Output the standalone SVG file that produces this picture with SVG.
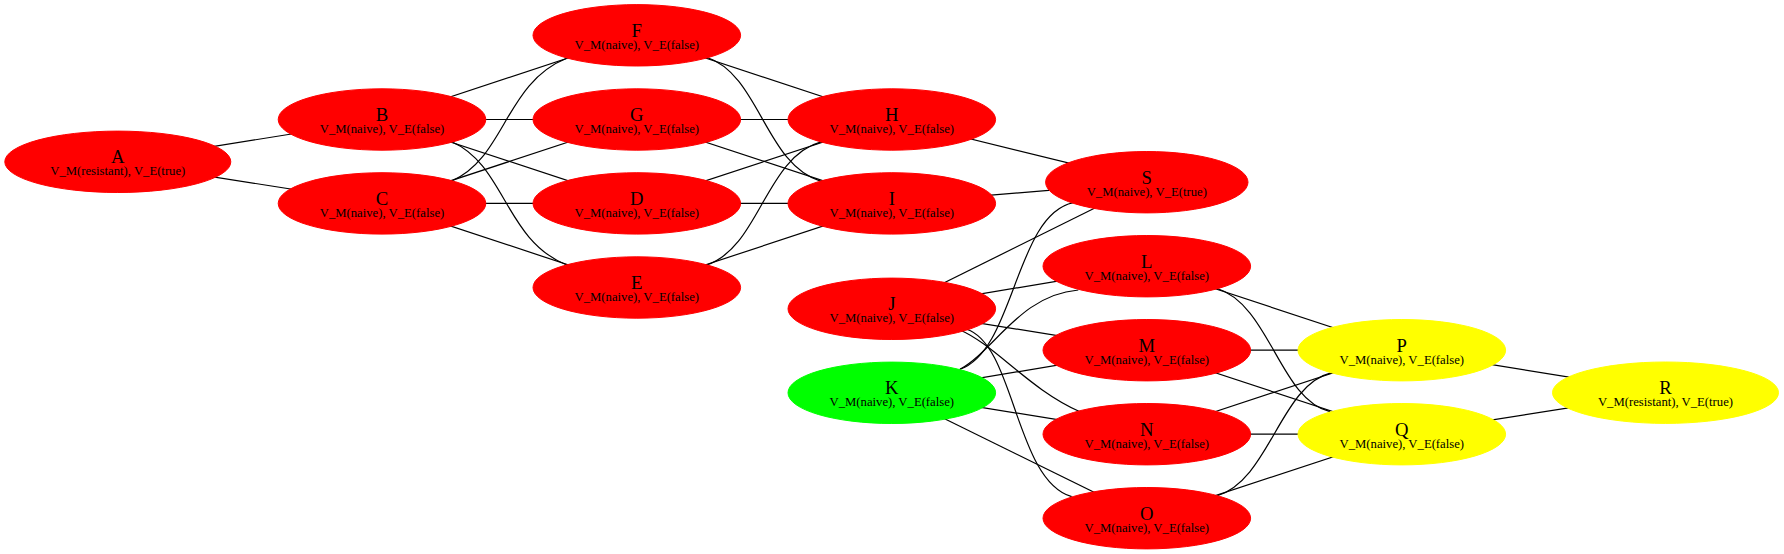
<svg xmlns="http://www.w3.org/2000/svg" width="1784" height="554" viewBox="0 0 1784 554">
<style>
.bg{fill:#ffffff}
.e{fill:none;stroke:#000000;stroke-width:1.2}
.red{fill:#ff0000;stroke:#ff0000}
.grn{fill:#00ff00;stroke:#00ff00}
.yel{fill:#ffff00;stroke:#ffff00}
.t1{font-family:"Liberation Serif","Times New Roman",serif;font-size:18.67px;text-anchor:middle;fill:#000000}
.t2{font-family:"Liberation Serif","Times New Roman",serif;font-size:12.7px;text-anchor:middle;fill:#000000}
</style>
<rect class="bg" x="0" y="0" width="1784" height="554"/>
<g id="connectors">
<path class="e" d="M117.8,161.8 L382,119.5"/>
<path class="e" d="M117.8,161.8 L382,203.4"/>
<path class="e" d="M382,119.5 L636.8,35.3"/>
<path class="e" d="M382,119.5 L636.8,119.5"/>
<path class="e" d="M382,119.5 L636.8,203.4"/>
<path class="e" d="M451.7,141.7 C505,165 505,240 566.7,265"/>
<path class="e" d="M451.7,181 C505,158 505,83 566.7,58.3"/>
<path class="e" d="M382,203.4 L636.8,119.5"/>
<path class="e" d="M382,203.4 L636.8,203.4"/>
<path class="e" d="M382,203.4 L636.8,287.5"/>
<path class="e" d="M636.8,35.3 L891.8,119.5"/>
<path class="e" d="M706.7,57.3 C760,75 765,165 821.7,181.7"/>
<path class="e" d="M636.8,119.5 L891.8,119.5"/>
<path class="e" d="M636.8,119.5 L891.8,203.4"/>
<path class="e" d="M636.8,203.4 L891.8,119.5"/>
<path class="e" d="M636.8,203.4 L891.8,203.4"/>
<path class="e" d="M706.7,265 C760,247 765,157 821.7,141.7"/>
<path class="e" d="M636.8,287.5 L891.8,203.4"/>
<path class="e" d="M891.8,119.5 L1146.8,182.2"/>
<path class="e" d="M891.8,203.4 L1146.8,182.2"/>
<path class="e" d="M891.8,308.8 L1146.8,182.2"/>
<path class="e" d="M891.8,308.8 L1146.8,266.2"/>
<path class="e" d="M891.8,308.8 L1146.8,350.2"/>
<path class="e" d="M960,330 C995,345 1030,390 1080,411.7"/>
<path class="e" d="M966.7,329.3 C1015,345 1015,480 1071.7,496.7"/>
<path class="e" d="M960,369.3 C1015,350 1015,215 1073.3,202.7"/>
<path class="e" d="M960,369.3 C995,350 1020,295 1078.3,290"/>
<path class="e" d="M891.8,392.8 L1146.8,350.2"/>
<path class="e" d="M891.8,392.8 L1146.8,434.2"/>
<path class="e" d="M891.8,392.8 L1146.8,518.2"/>
<path class="e" d="M1146.8,266.2 L1401.8,350.2"/>
<path class="e" d="M1216.7,288.3 C1270,305 1280,400 1330,411.7"/>
<path class="e" d="M1146.8,350.2 L1401.8,350.2"/>
<path class="e" d="M1146.8,350.2 L1401.8,434.2"/>
<path class="e" d="M1146.8,434.2 L1401.8,350.2"/>
<path class="e" d="M1146.8,434.2 L1401.8,434.2"/>
<path class="e" d="M1216.7,496 C1270,480 1280,385 1331.7,372.7"/>
<path class="e" d="M1146.8,518.2 L1401.8,434.2"/>
<path class="e" d="M1401.8,350.2 L1665.5,392.7"/>
<path class="e" d="M1401.8,434.2 L1665.5,392.7"/>
</g>
<g id="node-A"><ellipse class="red" cx="117.8" cy="161.8" rx="113" ry="30.7"/><text class="t1" x="117.8" y="163.1">A</text><text class="t2" x="117.8" y="175">V_M(resistant), V_E(true)</text></g>
<g id="node-B"><ellipse class="red" cx="382" cy="119.5" rx="103.8" ry="30.7"/><text class="t1" x="382" y="120.8">B</text><text class="t2" x="382" y="132.8">V_M(naive), V_E(false)</text></g>
<g id="node-C"><ellipse class="red" cx="382" cy="203.4" rx="103.8" ry="30.7"/><text class="t1" x="382" y="204.7">C</text><text class="t2" x="382" y="216.7">V_M(naive), V_E(false)</text></g>
<g id="node-F"><ellipse class="red" cx="636.8" cy="35.3" rx="103.8" ry="30.7"/><text class="t1" x="636.8" y="36.6">F</text><text class="t2" x="636.8" y="48.6">V_M(naive), V_E(false)</text></g>
<g id="node-G"><ellipse class="red" cx="636.8" cy="119.5" rx="103.8" ry="30.7"/><text class="t1" x="636.8" y="120.8">G</text><text class="t2" x="636.8" y="132.8">V_M(naive), V_E(false)</text></g>
<g id="node-D"><ellipse class="red" cx="636.8" cy="203.4" rx="103.8" ry="30.7"/><text class="t1" x="636.8" y="204.7">D</text><text class="t2" x="636.8" y="216.7">V_M(naive), V_E(false)</text></g>
<g id="node-E"><ellipse class="red" cx="636.8" cy="287.5" rx="103.8" ry="30.7"/><text class="t1" x="636.8" y="288.8">E</text><text class="t2" x="636.8" y="300.8">V_M(naive), V_E(false)</text></g>
<g id="node-H"><ellipse class="red" cx="891.8" cy="119.5" rx="103.8" ry="30.7"/><text class="t1" x="891.8" y="120.8">H</text><text class="t2" x="891.8" y="132.8">V_M(naive), V_E(false)</text></g>
<g id="node-I"><ellipse class="red" cx="891.8" cy="203.4" rx="103.8" ry="30.7"/><text class="t1" x="891.8" y="204.7">I</text><text class="t2" x="891.8" y="216.7">V_M(naive), V_E(false)</text></g>
<g id="node-J"><ellipse class="red" cx="891.8" cy="308.8" rx="103.8" ry="30.7"/><text class="t1" x="891.8" y="310.1">J</text><text class="t2" x="891.8" y="322.1">V_M(naive), V_E(false)</text></g>
<g id="node-K"><ellipse class="grn" cx="891.8" cy="392.8" rx="103.8" ry="30.7"/><text class="t1" x="891.8" y="394.1">K</text><text class="t2" x="891.8" y="406.1">V_M(naive), V_E(false)</text></g>
<g id="node-S"><ellipse class="red" cx="1146.8" cy="182.2" rx="101.2" ry="30.7"/><text class="t1" x="1146.8" y="183.5">S</text><text class="t2" x="1146.8" y="195.5">V_M(naive), V_E(true)</text></g>
<g id="node-L"><ellipse class="red" cx="1146.8" cy="266.2" rx="103.8" ry="30.7"/><text class="t1" x="1146.8" y="267.5">L</text><text class="t2" x="1146.8" y="279.5">V_M(naive), V_E(false)</text></g>
<g id="node-M"><ellipse class="red" cx="1146.8" cy="350.2" rx="103.8" ry="30.7"/><text class="t1" x="1146.8" y="351.5">M</text><text class="t2" x="1146.8" y="363.5">V_M(naive), V_E(false)</text></g>
<g id="node-N"><ellipse class="red" cx="1146.8" cy="434.2" rx="103.8" ry="30.7"/><text class="t1" x="1146.8" y="435.5">N</text><text class="t2" x="1146.8" y="447.5">V_M(naive), V_E(false)</text></g>
<g id="node-O"><ellipse class="red" cx="1146.8" cy="518.2" rx="103.8" ry="30.7"/><text class="t1" x="1146.8" y="519.5">O</text><text class="t2" x="1146.8" y="531.5">V_M(naive), V_E(false)</text></g>
<g id="node-P"><ellipse class="yel" cx="1401.8" cy="350.2" rx="103.8" ry="30.7"/><text class="t1" x="1401.8" y="351.5">P</text><text class="t2" x="1401.8" y="363.5">V_M(naive), V_E(false)</text></g>
<g id="node-Q"><ellipse class="yel" cx="1401.8" cy="434.2" rx="103.8" ry="30.7"/><text class="t1" x="1401.8" y="435.5">Q</text><text class="t2" x="1401.8" y="447.5">V_M(naive), V_E(false)</text></g>
<g id="node-R"><ellipse class="yel" cx="1665.5" cy="392.7" rx="113" ry="30.7"/><text class="t1" x="1665.5" y="394">R</text><text class="t2" x="1665.5" y="405.9">V_M(resistant), V_E(true)</text></g>
</svg>
